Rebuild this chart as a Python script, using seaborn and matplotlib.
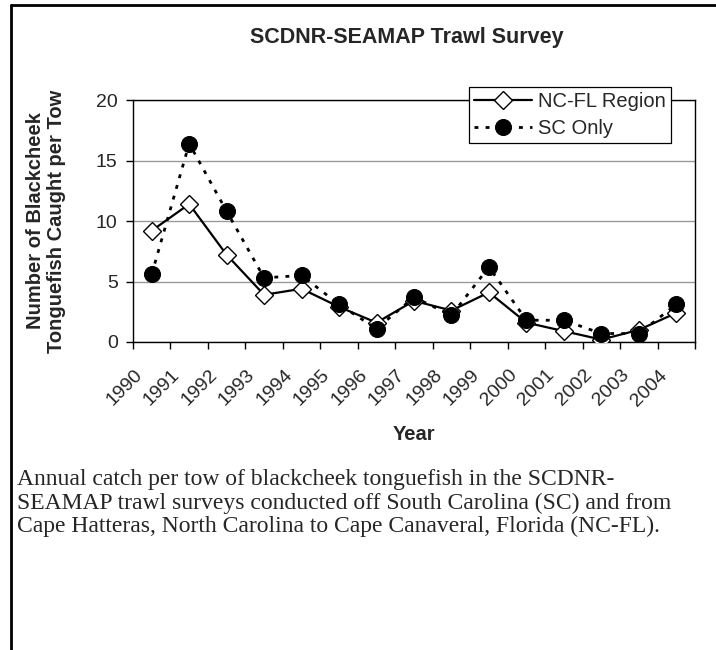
import numpy as np
import pandas as pd
import matplotlib
matplotlib.use("Agg")
import matplotlib.pyplot as plt
from matplotlib.lines import Line2D
from matplotlib.transforms import ScaledTranslation
import seaborn as sns

# data
years = list(range(1990, 2005))
ncfl_region = [9.2, 11.4, 7.2, 3.9, 4.4, 2.9, 1.6, 3.4, 2.6, 4.1, 1.6, 0.9, 0.2, 1.0, 2.4]
sc_only = [5.6, 16.4, 10.8, 5.3, 5.5, 3.1, 1.1, 3.7, 2.2, 6.2, 1.8, 1.8, 0.7, 0.7, 3.1]
y_ticks = [0, 5, 10, 15, 20]

title = "SCDNR-SEAMAP Trawl Survey"
caption = (
    "Annual catch per tow of blackcheek tonguefish in the SCDNR-\n"
    "SEAMAP trawl surveys conducted off South Carolina (SC) and from\n"
    "Cape Hatteras, North Carolina to Cape Canaveral, Florida (NC-FL)."
)

df = pd.DataFrame({"pos": np.arange(len(years)), "year": years,
                   "ncfl": ncfl_region, "sc": sc_only})

sns.set_style("white")
plt.rcParams["font.family"] = ["Liberation Sans", "DejaVu Sans"]

W, H = 716, 650
fig = plt.figure(figsize=(W / 100, H / 100), dpi=100)
ax = fig.add_axes([133 / W, 1 - 342 / H, (695 - 133) / W, (342 - 100) / H])

# series
sns.lineplot(data=df, x="pos", y="ncfl", ax=ax, color="black", lw=1.6,
             marker="D", markersize=9.5, markerfacecolor="white",
             markeredgecolor="black", markeredgewidth=1.0,
             label="NC-FL Region", zorder=3)
sns.lineplot(data=df, x="pos", y="sc", ax=ax, color="black", lw=2.0,
             linestyle=(0, (1.4, 2.6)), marker="o", markersize=11.5,
             markerfacecolor="black", markeredgecolor="black",
             label="SC Only", zorder=4)

# axes
ax.set_xlim(-0.5, len(years) - 0.5)
ax.set_ylim(0, 20)
ax.set_yticks(y_ticks)
ax.set_xticks(np.arange(len(years) + 1) - 0.5)
ax.set_xticklabels([])
ax.set_xticks(df["pos"], labels=[str(y) for y in years], minor=True)
ax.tick_params(axis="x", which="major", direction="out", length=5, width=1, color="black")
ax.tick_params(axis="x", which="minor", length=0, pad=22, labelsize=14)
ax.tick_params(axis="y", direction="out", length=5, width=1, color="black",
               pad=6, labelsize=14)
ax.tick_params(bottom=True, left=True)
for lab in ax.get_xticklabels(minor=True):
    lab.set_rotation(45)
    lab.set_ha("right")
    lab.set_va("center")
    lab.set_rotation_mode("anchor")
    lab.set_transform(lab.get_transform() + ScaledTranslation(-12 / 100, 0, fig.dpi_scale_trans))

ax.yaxis.grid(True, color="#9a9a9a", lw=1)
ax.xaxis.grid(False)
for s in ax.spines.values():
    s.set_color("black")
    s.set_linewidth(1)
    s.set_visible(True)

ax.set_xlabel("Year", fontsize=14.5, fontweight="bold")
ax.xaxis.set_label_coords(0.5, (342 - 435) / 242)
ax.xaxis.label.set_va("center")
ax.set_ylabel("Number of Blackcheek\nTonguefish Caught per Tow", fontsize=14.5,
              fontweight="bold", linespacing=1.1)
ax.yaxis.set_label_coords((46 - 133) / 562, 0.5)
ax.yaxis.label.set_va("center")

leg = ax.legend(loc="upper right", bbox_to_anchor=(671 / W, 1 - 87 / H),
                bbox_transform=fig.transFigure, frameon=True, fancybox=False,
                edgecolor="black", framealpha=1, fontsize=14.5, handlelength=2.9,
                handletextpad=0.3, borderpad=0.25, labelspacing=0.4,
                borderaxespad=0)
leg.get_frame().set_linewidth(0.9)
leg.set_zorder(10)

# title and caption
fig.text(407 / W, 1 - 38 / H, title, ha="center", va="center",
         fontsize=15.5, fontweight="bold")
fig.text(17 / W, 1 - 503 / H, caption, ha="left", va="center", fontsize=17,
         linespacing=1.12, family=["Liberation Serif", "DejaVu Serif"])

# page frame (top and left edges)
fig.add_artist(Line2D([11 / W, 11 / W], [0, 1 - 5 / H], transform=fig.transFigure,
                      color="black", lw=2))
fig.add_artist(Line2D([11 / W, 1], [1 - 5 / H, 1 - 5 / H], transform=fig.transFigure,
                      color="black", lw=2))

fig.savefig("out.png", dpi=100)
